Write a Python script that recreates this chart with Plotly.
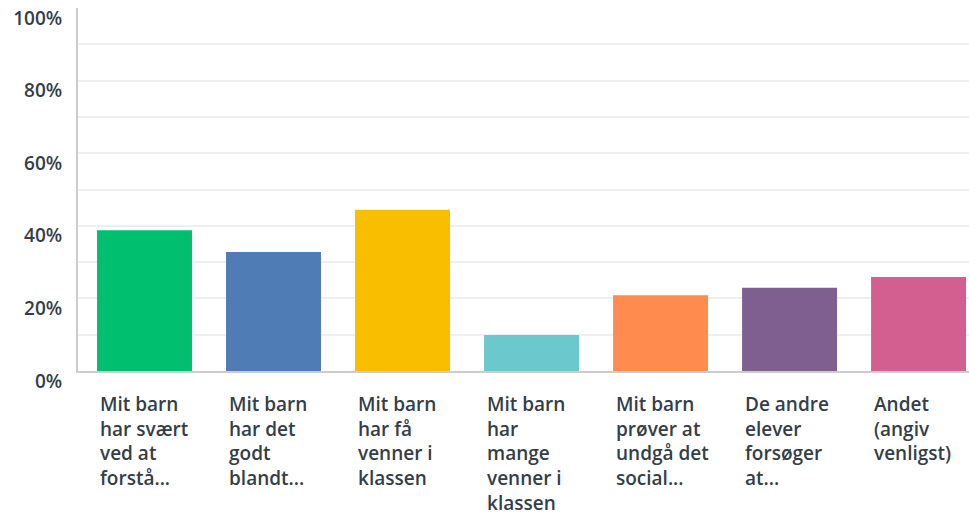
import plotly.graph_objects as go

categories = [
    "Mit barn har svært ved at forstå...",
    "Mit barn har det godt blandt...",
    "Mit barn har få venner i klassen",
    "Mit barn har mange venner i klassen",
    "Mit barn prøver at undgå det social...",
    "De andre elever forsøger at...",
    "Andet (angiv venligst)",
]
label_lines = [
    ["Mit barn", "har svært", "ved at", "forstå..."],
    ["Mit barn", "har det", "godt", "blandt..."],
    ["Mit barn", "har få", "venner i", "klassen"],
    ["Mit barn", "har", "mange", "venner i", "klassen"],
    ["Mit barn", "prøver at", "undgå det", "social..."],
    ["De andre", "elever", "forsøger", "at..."],
    ["Andet", "(angiv", "venligst)"],
]
values = [38.8, 32.8, 44.4, 9.9, 20.9, 22.9, 25.9]
colors = ["#00BF6F", "#507CB6", "#F9BE00", "#6BC8CD", "#FF8B4F", "#7F5F90", "#D25F90"]
y_ticks = [0, 20, 40, 60, 80, 100]
y_tick_text = ["0%", "20%", "40%", "60%", "80%", "100%"]

TEXT = "#333E48"
FONT = "Open Sans"

fig = go.Figure(go.Bar(
    x=categories, y=values, marker=dict(color=colors, line=dict(width=0)),
    hoverinfo="skip",
))

for cat, lines in zip(categories, label_lines):
    fig.add_annotation(
        x=cat, y=0, xref="x", yref="y", text="<br>".join(lines),
        showarrow=False, xanchor="left", yanchor="top", align="left",
        xshift=-46.5, yshift=-18,
        font=dict(family=FONT, size=19, color=TEXT, weight=600),
    )

fig.update_layout(
    width=969, height=516,
    margin=dict(l=78, r=0, t=8, b=145, autoexpand=False),
    plot_bgcolor="white", paper_bgcolor="white",
    bargap=0.264, showlegend=False,
    font=dict(family=FONT, color=TEXT),
)
fig.update_xaxes(
    range=[-0.5155, 6.391], showticklabels=False, showgrid=False, automargin=False,
    showline=True, linecolor="#CCCCCC", linewidth=2, ticks="", zeroline=False,
)
fig.update_yaxes(
    range=[0, 100], tickvals=y_ticks, ticktext=y_tick_text, automargin=False,
    showgrid=True, gridcolor="#EFEFEF", gridwidth=1.5,
    minor=dict(dtick=10, showgrid=True, gridcolor="#EFEFEF", gridwidth=1.5),
    showline=True, linecolor="#CCCCCC", linewidth=2, zeroline=False,
    ticks="", ticklabelstandoff=10, ticklabelshift=10, ticklabeloverflow="allow",
    tickfont=dict(family=FONT, size=19, color=TEXT, weight=600),
)

fig.write_html(
    "out.html",
    config={"displayModeBar": False},
    post_script="document.body.style.margin='0';",
)
